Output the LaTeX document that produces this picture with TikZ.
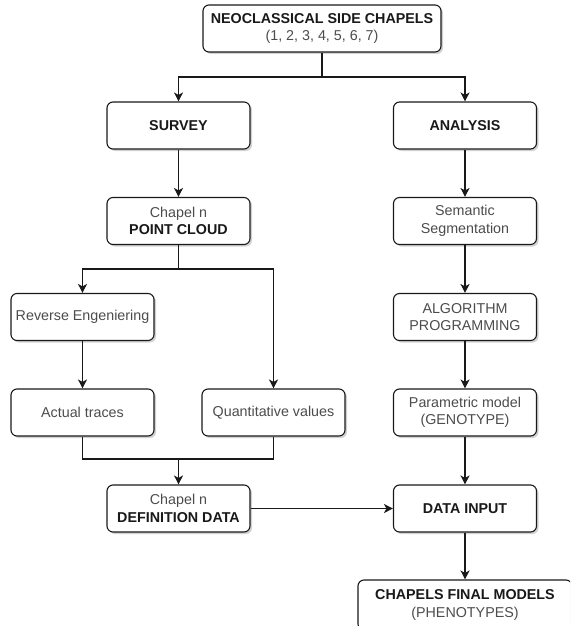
\documentclass[tikz,border=0pt]{standalone}
\usepackage{fontspec}
\setmainfont{Liberation Sans}
\usepackage{tikz}
\usetikzlibrary{shapes,arrows.meta,positioning,shadows}

\newcommand{\hd}[1]{{\bfseries\color{black!90}#1}}

\begin{document}
\begin{tikzpicture}[x=1pt,y=-1pt,>={Stealth[length=9pt,width=9pt,inset=2.5pt]}]

 \tikzstyle{stage}=[rectangle,rounded corners=6pt,draw=black!90,line width=1.1pt,fill=white,
text=black!70,align=center,minimum width=143pt,minimum height=47pt,inner sep=2pt,
font=\fontsize{14.3}{17.5}\selectfont,
drop shadow={shadow xshift=2pt,shadow yshift=-2pt,fill=black!35,opacity=0.5}]
 \tikzstyle{link}=[line width=1.1pt,draw=black!90]

\path[use as bounding box,clip] (0,0) rectangle (570,626);

\node[stage,minimum width=238pt] (chapels) at (322,28.5) {\hd{NEOCLASSICAL SIDE CHAPELS}\\(1, 2, 3, 4, 5, 6, 7)};

\node[stage] (survey) at (178.5,125.5) {\hd{SURVEY}};
\node[stage] (analysis) at (465,125.5) {\hd{ANALYSIS}};

% Survey branch
\node[stage] (pcloud) [node distance=95.5pt,below of=survey] {Chapel n\\\hd{POINT CLOUD}};
\node[stage] (reverse) at (82.5,317) {Reverse Engeniering};
\node[stage] (actual) [node distance=95.5pt,below of=reverse] {Actual traces};
\node[stage] (quant) at (273.5,412.5) {Quantitative values};
\node[stage] (defdata) at (178.5,508.5) {Chapel n\\\hd{DEFINITION DATA}};

% Analysis branch
\node[stage] (semseg) [node distance=95.5pt,below of=analysis] {Semantic\\Segmentation};
\node[stage] (algo) [node distance=96pt,below of=semseg] {ALGORITHM\\PROGRAMMING};
\node[stage] (param) [node distance=95.5pt,below of=algo] {Parametric model\\(GENOTYPE)};
\node[stage] (datain) [node distance=96pt,below of=param] {\hd{DATA INPUT}};
\node[stage,minimum width=214pt,minimum height=50pt] (final) [node distance=96.5pt,below of=datain] {\hd{CHAPELS FINAL MODELS}\\(PHENOTYPES)};

% Split and merge points
\coordinate (split1) at (322,77);
\coordinate (split2) at (178.5,269);
\coordinate (merge) at (178.5,459);

% Connectors
\draw[link] (chapels) -- (split1);
\draw[link,->] (split1) -| (survey);
\draw[link,->] (split1) -| (analysis);

\draw[link,->] (survey) -- (pcloud);
\draw[link] (pcloud) -- (split2);
\draw[link,->] (split2) -| (reverse);
\draw[link,->] (split2) -| (quant);
\draw[link,->] (reverse) -- (actual);
\draw[link] (actual) |- (merge);
\draw[link] (quant) |- (merge);
\draw[link,->] (merge) -- (defdata);
\draw[link,->] (defdata) -- (datain);

\draw[link,->] (analysis) -- (semseg);
\draw[link,->] (semseg) -- (algo);
\draw[link,->] (algo) -- (param);
\draw[link,->] (param) -- (datain);
\draw[link,->] (datain) -- (final);

\end{tikzpicture}
\end{document}
